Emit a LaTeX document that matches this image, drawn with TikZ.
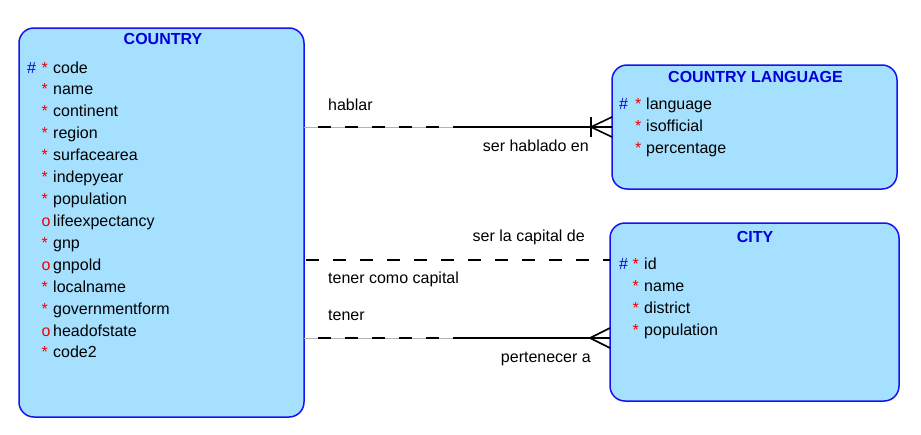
\documentclass[tikz,border=0pt]{standalone}
\usepackage{fontspec}
\setmainfont{Liberation Sans}
\usetikzlibrary{calc}
\definecolor{boxfill}{RGB}{166,224,255}
\definecolor{boxline}{RGB}{20,20,240}
\definecolor{titleblue}{RGB}{0,0,220}
\definecolor{keyblue}{RGB}{0,0,230}
\definecolor{reqred}{RGB}{240,0,0}
\begin{document}
\begin{tikzpicture}[x=1pt,y=-1pt,
  entity/.style={draw=boxline, fill=boxfill, line width=1.5pt, rounded corners=15pt, anchor=north west, inner sep=0pt, outer sep=0pt},
  ttl/.style={font=\fontsize{16pt}{19pt}\selectfont\bfseries, text=titleblue, anchor=base, inner sep=0pt},
  attr/.style={font=\fontsize{16pt}{19pt}\selectfont, anchor=base west, inner sep=0pt},
  pk/.style={attr, text=keyblue},
  rq/.style={attr, text=reqred},
  lblw/.style={font=\fontsize{16pt}{19pt}\selectfont, inner sep=0pt, anchor=base west},
  lble/.style={font=\fontsize{16pt}{19pt}\selectfont, inner sep=0pt, anchor=base east},
  rel/.style={line width=1.6pt, black},
  guide/.style={line width=0.8pt, black!30},
  dashrel/.style={rel, dash pattern=on 13pt off 14pt}
]
\useasboundingbox (0,0) rectangle (921,434);

% entities
\node[entity, minimum width=285pt, minimum height=389pt] (country) at (19,28) {};
\node[entity, minimum width=285pt, minimum height=124pt] (lang) at (612,65) {};
\node[entity, minimum width=289pt, minimum height=178pt] (city) at (610,223) {};

% titles
\node[ttl] (country-t) at (163,44) {COUNTRY};
\node[ttl] (lang-t) at (755.5,82) {COUNTRY LANGUAGE};
\node[ttl] (city-t) at (755,242) {CITY};

% COUNTRY attributes
\node[pk] (co-k) at (27,73) {\#};
\foreach \m/\t [count=\i from 0] in {*/code, */name, */continent, */region, */surfacearea, */indepyear, */population, o/lifeexpectancy, */gnp, o/gnpold, */localname, */governmentform, o/headofstate, */code2} {
  \node[attr] (co-a\i) at (53,{73+21.92*\i}) {\t};
  \node[rq] (co-m\i) at (41.5,{73+21.92*\i}) {\m};
}

% COUNTRY LANGUAGE attributes
\node[pk] (la-k) at (619,109) {\#};
\foreach \t [count=\i from 0] in {language, isofficial, percentage} {
  \node[attr] (la-a\i) at (646,{109+22*\i}) {\t};
  \node[rq] (la-m\i) at (635,{109+22*\i}) {*};
}

% CITY attributes
\node[pk] (ci-k) at (619,269) {\#};
\foreach \t [count=\i from 0] in {id, name, district, population} {
  \node[attr] (ci-a\i) at (644,{269+22*\i}) {\t};
  \node[rq] (ci-m\i) at (632.5,{269+22*\i}) {*};
}

% relation 1: country -- language
\path (country.east |- lang.west) coordinate (r1s) ++(150,0) coordinate (r1m);
\path (lang.west) ++(-21,0) coordinate (r1f);
\draw[guide] (r1s) -- (r1m);
\draw[dashrel, dash phase=13pt] (r1s) -- (r1m);
\draw[rel] (r1m) -- (lang.west);
\draw[rel] ($(r1f)+(0,-10)$) -- ($(r1f)+(0,10)$);
\draw[rel] ($(lang.west)+(0,-10)$) -- (r1f) -- ($(lang.west)+(0,10)$);
\node[lblw] (l-hablar) at (328,110) {hablar};
\node[lble] (l-serhab) at (589,151) {ser hablado en};

% relation 2: capital
\path (city.north west) ++(0,37) coordinate (r2e);
\draw[dashrel, dash phase=25pt] (country.east |- r2e) -- (r2e);
\node[lble] (l-sercap) at (585,241) {ser la capital de};
\node[lblw] (l-tenercap) at (328,283) {tener como capital};

% relation 3: country -- city
\path (city.north west) ++(0,115) coordinate (r3e);
\path (country.east |- r3e) coordinate (r3s) ++(150,0) coordinate (r3m);
\path (r3e) ++(-20,0) coordinate (r3f);
\draw[guide] (r3s) -- (r3m);
\draw[dashrel, dash phase=13pt] (r3s) -- (r3m);
\draw[rel] (r3m) -- (r3e);
\draw[rel] ($(r3e)+(0,-10)$) -- (r3f) -- ($(r3e)+(0,10)$);
\node[lblw] (l-tener) at (328,320) {tener};
\node[lble] (l-pert) at (591,362) {pertenecer a};
\end{tikzpicture}
\end{document}
